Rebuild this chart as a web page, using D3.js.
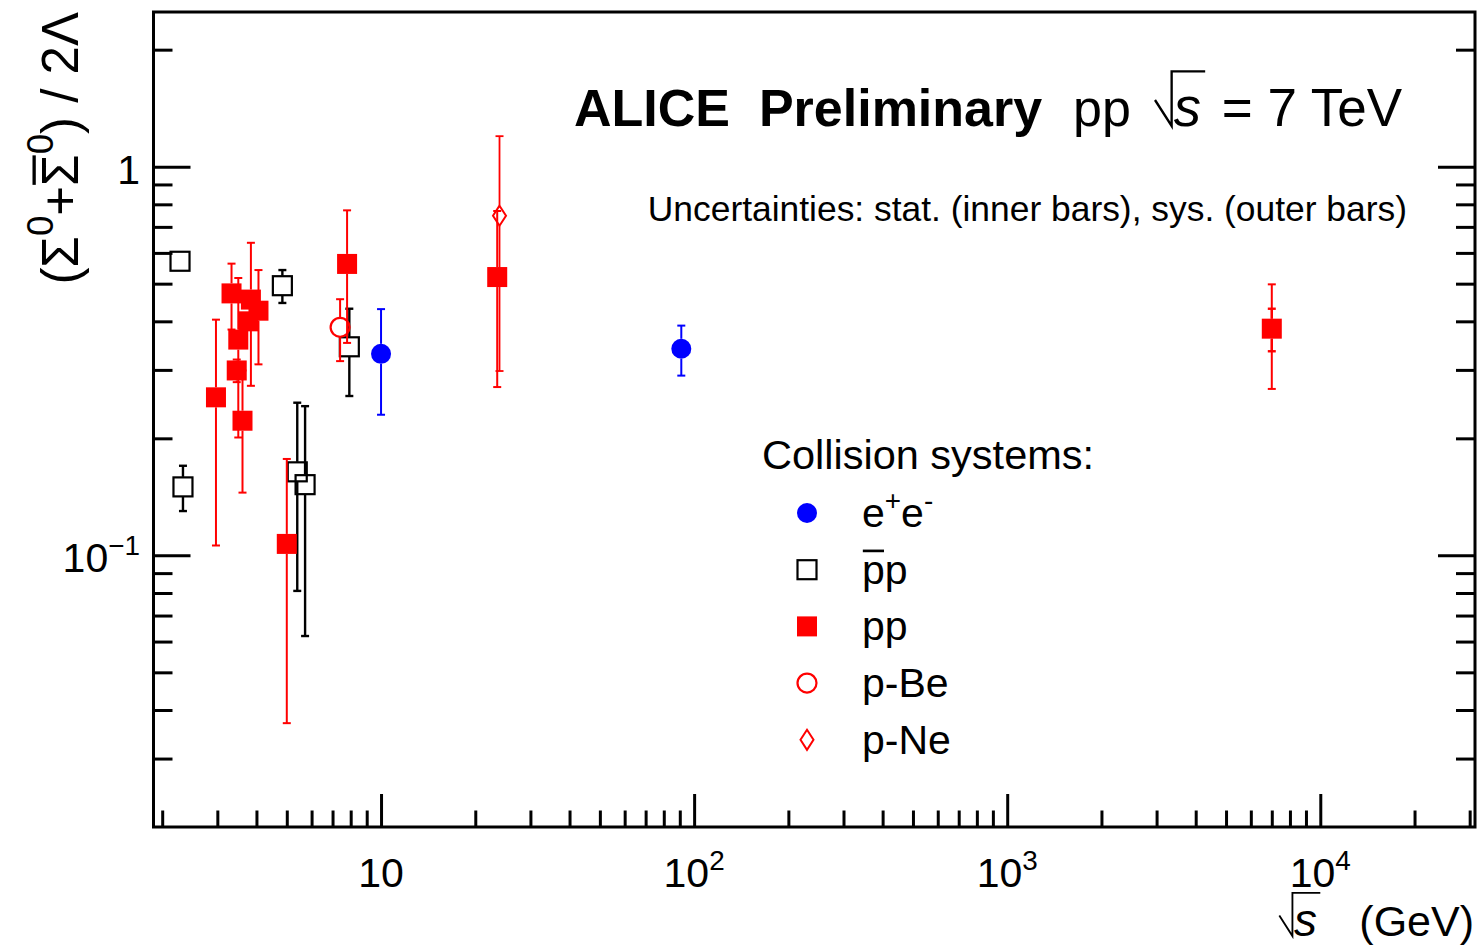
<!DOCTYPE html>
<html>
<head>
<meta charset="utf-8">
<script src="https://cdn.jsdelivr.net/npm/d3@7"></script>
<style>
  html, body { margin: 0; padding: 0; background: #fff; }
  svg { display: block; font-family: "Liberation Sans", Arial, Helvetica, sans-serif; }
</style>
</head>
<body>
<svg id="chart" width="1484" height="948"></svg>
<script>
// Sigma0 / Lambda ratio vs collision energy sqrt(s) in GeV
// e+e- collisions
const eeEnergy = [10.0, 91.0];
const eeRatio  = [0.330, 0.340];
const eeErr    = [0.100, 0.050];

// antiproton-proton collisions
const pbarpEnergy = [2.28, 2.33, 4.84, 5.40, 5.72, 7.92];
const pbarpRatio  = [0.571, 0.150, 0.494, 0.164, 0.152, 0.344];
const pbarpErr    = [0.0, 0.020, 0.048, 0.083, 0.090, 0.087];

// proton-proton collisions (earlier measurements)
const ppEnergy = [2.97, 3.33, 3.46, 3.50, 3.61, 3.77, 3.84, 4.06, 5.00, 7.79, 23.5];
const ppRatio  = [0.255, 0.472, 0.299, 0.359, 0.222, 0.400, 0.455, 0.426, 0.107, 0.562, 0.520];
const ppErr    = [0.149, 0.091, 0.020, 0.158, 0.077, 0.020, 0.182, 0.116, 0.070, 0.210, 0.249];

// proton-beryllium
const pBeEnergy = [7.40];
const pBeRatio  = [0.386];
const pBeErr    = [0.070];

// proton-neon
const pNeEnergy = [23.9];
const pNeRatio  = [0.748];
const pNeErr    = [0.450];

// ALICE pp at 7 TeV: statistical and systematic uncertainties
const aliceEnergy = [7000];
const aliceRatio  = [0.383];
const aliceStat   = [0.048];
const aliceSys    = [0.115];

// axis tick values
const xMajorTicks = [10, 100, 1000, 10000];
const xTickLabels = [["10", ""], ["10", "2"], ["10", "3"], ["10", "4"]];
const yMajorTicks = [0.1, 1];
const yTickLabels = [["1", ""], ["10", "\u22121"]];

const svg = d3.select("#chart");
const frame = { left: 153.5, right: 1475, top: 12, bottom: 827 };

const x = d3.scaleLog().domain([1.876, 31200]).range([frame.left, frame.right]);
const y = d3.scaleLog().domain([0.02, 2.5]).range([frame.bottom, frame.top]);

const RED = "#ff0000", BLUE = "#0000ff", BLACK = "#000000";

// minor ticks: 2..9 times each power of ten inside the domain
function minorTicks(scale) {
  const [a, b] = scale.domain();
  const out = [];
  for (let p = Math.floor(Math.log10(a)); p <= Math.ceil(Math.log10(b)); p++) {
    for (let m = 2; m <= 9; m++) {
      const v = m * Math.pow(10, p);
      if (v > a * 1.0001 && v < b * 0.9999) out.push(v);
    }
  }
  return out;
}

const axes = svg.append("g").attr("class", "axes");
function tickAxis(gen, scale, values, size, transform) {
  const g = axes.append("g").attr("transform", transform)
    .call(gen(scale).tickValues(values).tickSize(size).tickFormat(""));
  g.select(".domain").remove();
  g.selectAll(".tick line").attr("stroke", BLACK).attr("stroke-width", 3);
  return g;
}
const xMinor = minorTicks(x), yMinor = minorTicks(y);
// bottom axis
tickAxis(d3.axisBottom, x, xMajorTicks, -33, `translate(0,${frame.bottom})`);
tickAxis(d3.axisBottom, x, xMinor, -16.5, `translate(0,${frame.bottom})`);
// left and right axes
tickAxis(d3.axisLeft, y, yMajorTicks, -37, `translate(${frame.left},0)`);
tickAxis(d3.axisLeft, y, yMinor, -19, `translate(${frame.left},0)`);
tickAxis(d3.axisRight, y, yMajorTicks, -37, `translate(${frame.right},0)`);
tickAxis(d3.axisRight, y, yMinor, -19, `translate(${frame.right},0)`);

axes.append("rect")
  .attr("x", frame.left).attr("y", frame.top)
  .attr("width", frame.right - frame.left).attr("height", frame.bottom - frame.top)
  .attr("fill", "none").attr("stroke", BLACK).attr("stroke-width", 3);

// rich text helper: parts with optional superscript / overline / italic.
// Overlines are drawn as separate strokes above the chosen characters.
function rich(sel, parts, fs, baseY, opts = {}) {
  const supScale = opts.supScale || 0.68, supRise = opts.supRise || 0.42;
  let shift = 0, idx = 0;
  const overs = [];
  parts.forEach(p => {
    if (p.t === "") return;
    const ts = sel.append("tspan").text(p.t);
    const target = p.sup ? -supRise * fs : 0;
    const dy = target - shift;
    shift = target;
    if (dy) ts.attr("dy", dy);
    if (p.sup) ts.attr("font-size", supScale * fs);
    if (p.italic) ts.attr("font-style", "italic");
    if (p.over) overs.push({ from: idx, to: idx + p.t.length - 1, h: p.over });
    idx += p.t.length;
  });
  const node = sel.node();
  overs.forEach(o => {
    const a = node.getExtentOfChar(o.from), b = node.getExtentOfChar(o.to);
    const yy = baseY - o.h * fs;
    d3.select(node.parentNode).append("line")
      .attr("x1", a.x + 0.02 * fs).attr("x2", b.x + b.width - 0.02 * fs)
      .attr("y1", yy).attr("y2", yy)
      .attr("stroke", BLACK).attr("stroke-width", fs * 0.065);
  });
  return sel;
}

// x tick labels
xMajorTicks.forEach((v, i) => {
  const t = svg.append("text").attr("x", x(v)).attr("y", 887)
    .attr("text-anchor", "middle").attr("font-size", 41);
  rich(t, [{ t: xTickLabels[i][0] }, { t: xTickLabels[i][1], sup: true }], 41, 887);
});
// y tick labels
yMajorTicks.slice().reverse().forEach((v, i) => {
  const t = svg.append("text").attr("x", 140).attr("y", y(v) + 17)
    .attr("text-anchor", "end").attr("font-size", 41);
  rich(t, [{ t: yTickLabels[i][0] }, { t: yTickLabels[i][1], sup: true }], 41, y(v) + 17);
});

// sqrt(s) drawn as radical stroke + italic s
function sqrtS(g, x0, base, fs, sScale) {
  const s = g.append("text").attr("x", x0 + 0.36 * fs).attr("y", base)
    .attr("font-size", fs * sScale).attr("font-style", "italic").text("s");
  const sw = s.node().getComputedTextLength();
  const vx = x0 + 0.32 * fs;
  g.append("path")
    .attr("d", `M${x0},${base - 0.5 * fs} L${vx},${base} L${vx},${base - 1.05 * fs} L${vx + sw + 0.12 * fs},${base - 1.05 * fs}`)
    .attr("fill", "none").attr("stroke", BLACK).attr("stroke-width", fs * 0.045);
  return x0 + 0.36 * fs + sw;
}

// y axis title
const yTitleG = svg.append("g").attr("transform", "translate(78,12) rotate(-90)");
const yTitle = yTitleG.append("text").attr("x", 0).attr("y", 0)
  .attr("text-anchor", "end").attr("font-size", 51);
rich(yTitle, [
  { t: "(\u03A3" }, { t: "0", sup: true }, { t: "+" },
  { t: "\u03A3", over: 0.86 }, { t: "0", sup: true }, { t: ") / 2\u039B" }
], 51, 0, { supScale: 0.72, supRise: 0.5 });

// x axis title
const xTitleG = svg.append("g");
const gev = xTitleG.append("text").attr("x", 1474).attr("y", 936)
  .attr("text-anchor", "end").attr("font-size", 43).text("(GeV)");
const gevW = gev.node().getComputedTextLength();
sqrtS(xTitleG, 1474 - gevW - 80, 936, 41, 1.12);

// header
svg.append("text").attr("x", 574).attr("y", 126).attr("font-size", 52)
  .attr("font-weight", "bold").text("ALICE\u00A0 Preliminary");
svg.append("text").attr("x", 1073).attr("y", 126).attr("font-size", 52).text("pp");
const hdr = svg.append("g");
sqrtS(hdr, 1155, 126, 52, 1.05);
svg.append("text").attr("x", 1402).attr("y", 126).attr("text-anchor", "end")
  .attr("font-size", 53).text("= 7 TeV");

svg.append("text").attr("x", 1407).attr("y", 221).attr("text-anchor", "end")
  .attr("font-size", 35.4).text("Uncertainties: stat. (inner bars), sys. (outer bars)");

// marker shapes
const HALF = 10;
function marker(g, cx, cy, type) {
  switch (type) {
    case "circleFilled":
      g.append("circle").attr("cx", cx).attr("cy", cy).attr("r", HALF).attr("fill", BLUE); break;
    case "squareOpen":
      g.append("rect").attr("x", cx - 9.5).attr("y", cy - 9.5).attr("width", 19).attr("height", 19)
        .attr("fill", "none").attr("stroke", BLACK).attr("stroke-width", 2.2); break;
    case "squareFilled":
      g.append("rect").attr("x", cx - HALF).attr("y", cy - HALF).attr("width", 2 * HALF).attr("height", 2 * HALF)
        .attr("fill", RED); break;
    case "circleOpen":
      g.append("circle").attr("cx", cx).attr("cy", cy).attr("r", 9.5)
        .attr("fill", "none").attr("stroke", RED).attr("stroke-width", 2.2); break;
    case "diamondOpen":
      g.append("path").attr("d", `M${cx},${cy - 10} L${cx + 6.5},${cy} L${cx},${cy + 10} L${cx - 6.5},${cy} Z`)
        .attr("fill", "none").attr("stroke", RED).attr("stroke-width", 2); break;
  }
}

// vertical error bar with end caps, leaving a gap for the marker
function errorBar(g, cx, v, e, color, width) {
  if (!(e > 0)) return;
  const cy = y(v), top = y(v + e), bot = y(v - e);
  const seg = (a, b) => g.append("line").attr("x1", cx).attr("x2", cx).attr("y1", a).attr("y2", b)
    .attr("stroke", color).attr("stroke-width", width);
  if (top < cy - HALF) seg(top, cy - HALF);
  if (bot > cy + HALF) seg(cy + HALF, bot);
  [top, bot].forEach(yy => g.append("line").attr("x1", cx - 4).attr("x2", cx + 4)
    .attr("y1", yy).attr("y2", yy).attr("stroke", color).attr("stroke-width", width));
}

function series(energy, ratio, err, type, color, width) {
  const g = svg.append("g");
  energy.forEach((E, i) => errorBar(g, x(E), ratio[i], err[i], color, width));
  energy.forEach((E, i) => marker(g, x(E), y(ratio[i]), type));
}

series(pbarpEnergy, pbarpRatio, pbarpErr, "squareOpen", BLACK, 2.4);
series(ppEnergy, ppRatio, ppErr, "squareFilled", RED, 2);
series(pBeEnergy, pBeRatio, pBeErr, "circleOpen", RED, 2);
series(pNeEnergy, pNeRatio, pNeErr, "diamondOpen", RED, 1.8);
series(eeEnergy, eeRatio, eeErr, "circleFilled", BLUE, 2);

// ALICE point: outer (sys) and inner (stat) bars
const aliceG = svg.append("g");
aliceEnergy.forEach((E, i) => {
  errorBar(aliceG, x(E), aliceRatio[i], aliceSys[i], RED, 2);
  errorBar(aliceG, x(E), aliceRatio[i], aliceStat[i], RED, 2.4);
  marker(aliceG, x(E), y(aliceRatio[i]), "squareFilled");
});

// legend
const legendEntries = [
  { type: "circleFilled", parts: [{ t: "e" }, { t: "+", sup: true }, { t: "e" }, { t: "-", sup: true }] },
  { type: "squareOpen", parts: [{ t: "p", over: 0.8 }, { t: "p" }] },
  { type: "squareFilled", parts: [{ t: "pp" }] },
  { type: "circleOpen", parts: [{ t: "p-Be" }] },
  { type: "diamondOpen", parts: [{ t: "p-Ne" }] }
];
const lg = svg.append("g");
lg.append("text").attr("x", 762).attr("y", 469).attr("font-size", 41.5).text("Collision systems:");
legendEntries.forEach((d, i) => {
  const cy = 513 + i * 56.7;
  marker(lg, 807, cy, d.type);
  const t = lg.append("text").attr("x", 862).attr("y", cy + 14).attr("font-size", 41);
  rich(t, d.parts, 41, cy + 14);
});
</script>
</body>
</html>
